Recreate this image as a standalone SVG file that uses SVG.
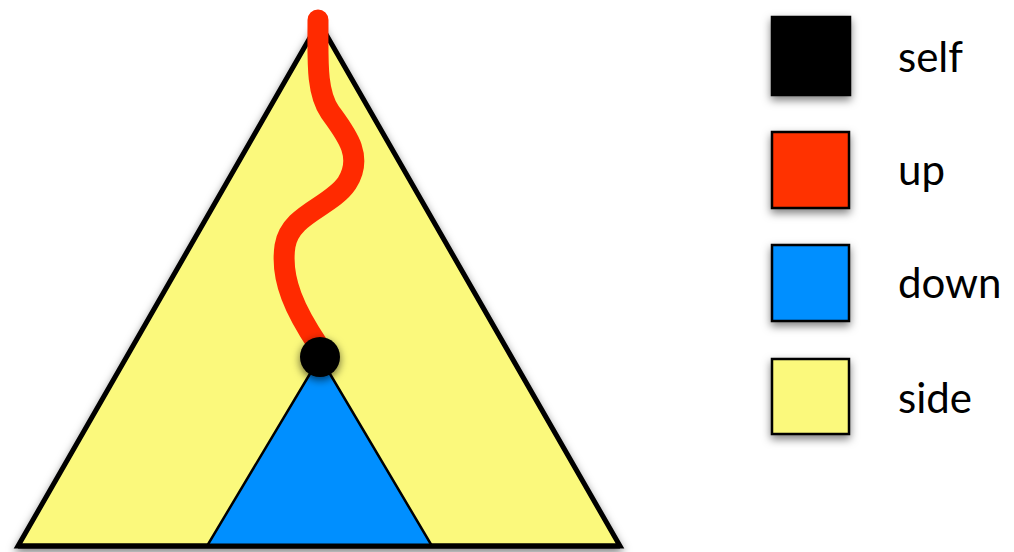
<svg xmlns="http://www.w3.org/2000/svg" width="1014" height="552" viewBox="0 0 1014 552">
  <style>
    .lbl { font-family: Lato, "Open Sans", "Liberation Sans", sans-serif; font-size: 42px; fill: #000; }
    .sq { stroke: #000; stroke-width: 2.5; filter: url(#shadow); }
  </style>
  <defs>
    <filter id="shadow" x="-30%" y="-30%" width="160%" height="160%">
      <feDropShadow dx="0" dy="4" stdDeviation="4" flood-color="#000" flood-opacity="0.5"/>
    </filter>
    <filter id="dotshadow" x="-50%" y="-50%" width="200%" height="200%">
      <feDropShadow dx="0" dy="3" stdDeviation="4" flood-color="#000" flood-opacity="0.6"/>
    </filter>
  </defs>
  <rect width="1014" height="552" fill="#fff"/>
  <g id="side-region">
    <polygon points="319,22 18,546 620,546" fill="#FBF97B" stroke="#000" stroke-width="5" stroke-linejoin="miter" filter="url(#shadow)"/>
  </g>
  <g id="down-region">
    <polygon points="320,357 207,546 432,546" fill="#008FFF" stroke="#000" stroke-width="2.5"/>
    <line x1="18" y1="546" x2="620" y2="546" stroke="#000" stroke-width="5"/>
  </g>
  <g id="connectors">
    <path id="up-path" d="M318,20 C318,60 316,92 330,112 C346,134 364,156 347,183 C331,207 290,214 285,246 C280,280 296,312 318,345" fill="none" stroke="#FF2A00" stroke-width="21" stroke-linecap="round"/>
  </g>
  <g id="self-node">
    <circle cx="320" cy="357" r="20" fill="#000" filter="url(#dotshadow)"/>
  </g>
  <g id="legend-self">
    <rect class="sq" x="772" y="17" width="78" height="78" fill="#000"/>
    <text class="lbl" x="898" y="72">self</text>
  </g>
  <g id="legend-up">
    <rect class="sq" x="772" y="132" width="77" height="76" fill="#FF3300"/>
    <text class="lbl" x="898" y="185">up</text>
  </g>
  <g id="legend-down">
    <rect class="sq" x="772" y="245" width="77" height="76" fill="#008FFF"/>
    <text class="lbl" x="898" y="298">down</text>
  </g>
  <g id="legend-side">
    <rect class="sq" x="772" y="359" width="77" height="75" fill="#FBF97B"/>
    <text class="lbl" x="898" y="413">side</text>
  </g>
</svg>
